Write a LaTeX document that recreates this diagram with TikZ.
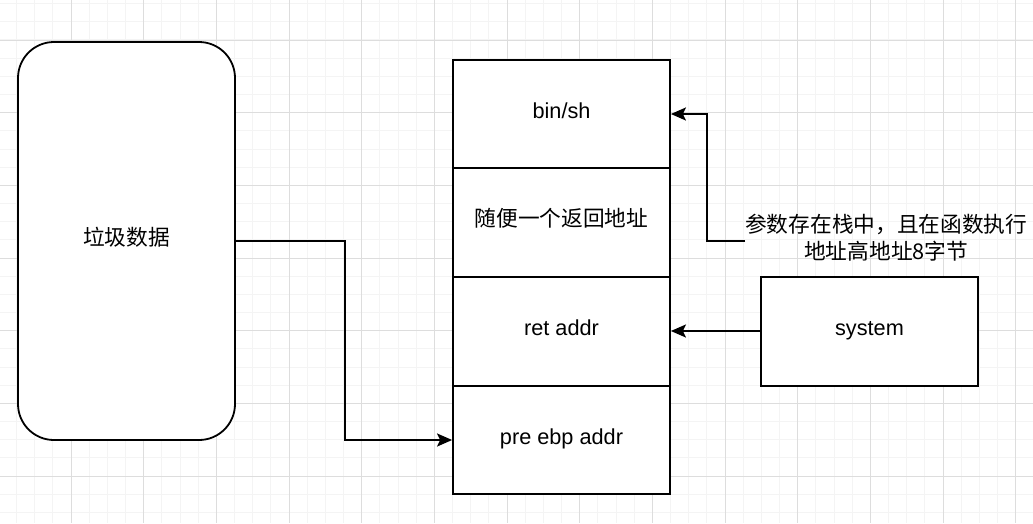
\documentclass[tikz,border=0pt]{standalone}
\usepackage{fontspec}
\setmainfont{Liberation Sans}
\newfontfamily\cjk{Noto Sans CJK SC}
\usetikzlibrary{arrows.meta}
\definecolor{gminor}{HTML}{F4F4F4}
\definecolor{gmajor}{HTML}{DDDDDD}
\tikzset{
  box/.style={draw=black, line width=1.8pt, fill=white, minimum width=217pt, minimum height=108.5pt, inner sep=0pt, text height=15pt, text depth=6.2pt, font=\fontsize{21.7pt}{26pt}\selectfont},
  rbox/.style={box, rounded corners=36pt, minimum height=398pt},
  conn/.style={draw=black, line width=1.8pt, -{Stealth[length=15pt,width=13pt,inset=3pt]}},
  lbl/.style={inner sep=0pt, align=center, font=\fontsize{21.7pt}{27pt}\selectfont\cjk}
}
\begin{document}
\begin{tikzpicture}[x=1pt,y=-1pt]
\useasboundingbox (0,0) rectangle (1033,523);
\fill[white] (0,0) rectangle (1033,523);
% grid
\foreach \i in {0,...,57} {
  \draw[gminor, line width=1pt] ({16.5+18.167*\i},0) -- ({16.5+18.167*\i},523);
}
\foreach \i in {0,...,28} {
  \draw[gminor, line width=1pt] (0,{3.66+18.167*\i}) -- (1033,{3.66+18.167*\i});
}
\foreach \i in {0,...,14} {
  \draw[gmajor, line width=1pt] ({71-72.67+72.67*\i},0) -- ({71-72.67+72.67*\i},523);
}
\foreach \i in {0,...,7} {
  \draw[gmajor, line width=1pt] (0,{40-72.67+72.67*\i}) -- (1033,{40-72.67+72.67*\i});
}
% nodes
\node[rbox] (junk) at (126.5,241) {\cjk 垃圾数据};
\node[box] (s1) at (561.5,114) {bin/sh};
\node[box] (s2) at (561.5,222.5) {\cjk 随便一个返回地址};
\node[box] (s3) at (561.5,331.5) {ret addr};
\node[box] (s4) at (561.5,440) {pre ebp addr};
\node[box] (sys) at (869.5,331.5) {system};
\node[lbl, anchor=west] (note) at (745,238) {参数存在栈中，且在函数执行\\地址高地址8字节};
% connectors
\coordinate (j1) at (345,241);
\coordinate (j2) at (345,440);
\path[conn] (junk.east) -- (j1) -- (j2) -- (s4.west);
\path[conn] ([yshift=0.5pt]sys.west) -- ([yshift=0.5pt]s3.east);
\coordinate (n1) at (707,241);
\coordinate (n2) at (707,114);
\path[conn] (note.west |- 0,241) -- (n1) -- (n2) -- (s1.east);
\end{tikzpicture}
\end{document}
